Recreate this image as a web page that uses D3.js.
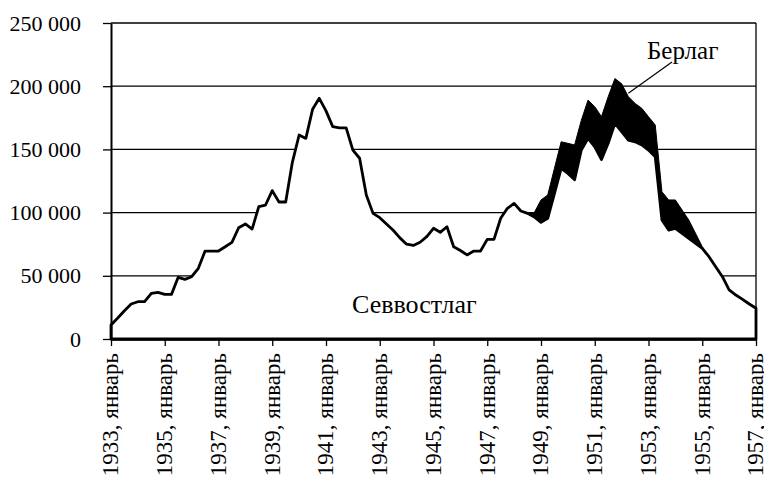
<!DOCTYPE html>
<meta charset="utf-8">
<style>
body { margin: 0; background: #fff; }
svg, svg text { font-family: "Liberation Serif", "DejaVu Serif", serif !important; }
.grid line { stroke: #000; stroke-width: 1.3px; }
</style>
<body>
<div id="chart"></div>
<script src="https://d3js.org/d3.v7.min.js"></script>
<script>
const width = 764, height = 483;
const margin = {top: 23, right: 8, bottom: 144, left: 111};

// quarterly figures, 1933 I .. 1957 I
const sevvostlag = [
	11100, 16600, 22400, 27700,  29500, 29500, 36100, 36900,     // 1933-34
	35300, 35300, 48800, 47200,  49300, 55900, 69600, 69600,     // 1935-36
	69600, 73000, 76500, 88000,  91000, 87000, 104700, 106000,   // 1937-38
	117400, 108400, 108400, 140000,  161400, 158700, 181700, 190400, // 1939-40
	180500, 168000, 167000, 167000,  149500, 143000, 114000, 99400,  // 1941-42
	96000, 91000, 86000, 80000,  75000, 74000, 76500, 81000,     // 1943-44
	87600, 84400, 88800, 73000,  70000, 66500, 69600, 69600,     // 1945-46
	78800, 78800, 95500, 103400,  107300, 101300, 99400, 96500,  // 1947-48
	92300, 95500, 115000, 135000,  131000, 126000, 149500, 158700, // 1949-50
	152000, 142000, 154800, 170600,  164000, 157400, 156000, 153500, // 1951-52
	149500, 144200, 94100, 86200,  87600, 83600, 79600, 75700,   // 1953-54
	71700, 65100, 57200, 49300,  38800, 34800, 31400, 27700,     // 1955-56
	24300                                                        // 1957
];
// Берлаг, from 1948 IV quarter (index 63) on
const berlagStart = 63;
const berlag = [
	3500,
	17700, 18400, 20000, 21000,  23800, 27500, 23500, 30300,
	31800, 33900, 36900, 35400,  38000, 34300, 30400, 29000,
	26400, 25100, 22400, 23800,  22400, 18400, 14500, 7900,
	1300
];
const xTicks = [0, 8, 16, 24, 32, 40, 48, 56, 64, 72, 80, 88, 96];
const xLabels = ["1933, январь", "1935, январь", "1937, январь", "1939, январь", "1941, январь",
	"1943, январь", "1945, январь", "1947, январь", "1949, январь", "1951, январь",
	"1953, январь", "1955, январь", "1957, январь"];
const yTicks = [0, 50000, 100000, 150000, 200000, 250000];
const yLabels = ["0", "50 000", "100 000", "150 000", "200 000", "250 000"];

const table = sevvostlag.map(function(v, i) {
	const b = (i >= berlagStart && i - berlagStart < berlag.length) ? berlag[i - berlagStart] : 0;
	return {q: i, sev: v, ber: b};
});

const x = d3.scaleLinear().domain([0, sevvostlag.length - 1]).range([margin.left, width - margin.right]);
const y = d3.scaleLinear().domain([0, 250000]).range([height - margin.bottom, margin.top]);

const svg = d3.select('#chart').append('svg')
	.attr('width', width)
	.attr('height', height);

// grid
svg.append('g').attr('class', 'grid')
	.selectAll('line')
	.data(yTicks.filter(d => d > 0))
	.enter().append('line')
	.attr('x1', x(0)).attr('x2', x.range()[1])
	.attr('y1', d => y(d)).attr('y2', d => y(d));

// right frame
svg.append('line')
	.attr('x1', x.range()[1]).attr('x2', x.range()[1])
	.attr('y1', y(250000)).attr('y2', y(0))
	.attr('stroke', '#000').attr('stroke-width', 1.3);

const stacked = d3.stack().keys(['sev', 'ber'])(table);

const area = d3.area()
	.x(d => x(d.data.q))
	.y0(d => y(d[0]))
	.y1(d => y(d[1]));

// Севвостлаг: white area hides the grid
svg.append('path')
	.datum(stacked[0])
	.attr('d', area)
	.attr('fill', '#fff')
	.attr('stroke', '#000')
	.attr('stroke-width', 2.8)
	.attr('stroke-linejoin', 'round');

// Берлаг on top
svg.append('path')
	.datum(stacked[1].filter(d => d.data.q >= berlagStart - 1 && d.data.q <= berlagStart + berlag.length))
	.attr('d', area)
	.attr('fill', '#000')
	.attr('stroke', '#000')
	.attr('stroke-width', 1)
	.attr('stroke-linejoin', 'round');

// axes
const yAxis = svg.append('g')
	.attr('transform', 'translate(' + margin.left + ',0)')
	.call(d3.axisLeft(y).tickValues(yTicks).tickSize(8).tickSizeOuter(0).tickPadding(22)
		.tickFormat((d, i) => yLabels[i]));
yAxis.attr('font-size', 22);
yAxis.select('.domain').attr('stroke-width', 2);
yAxis.selectAll('.tick line').attr('stroke-width', 1.3);

const xAxis = svg.append('g')
	.attr('transform', 'translate(0,' + y(0) + ')')
	.call(d3.axisBottom(x).tickValues(xTicks).tickSize(7).tickSizeOuter(0)
		.tickFormat((d, i) => xLabels[i]));
xAxis.attr('font-size', 23);
xAxis.select('.domain').attr('stroke-width', 2.6);
xAxis.selectAll('.tick line').attr('stroke-width', 1.3);
xAxis.selectAll('text')
	.attr('transform', 'rotate(-90)')
	.attr('x', -14)
	.attr('y', 0)
	.attr('dy', '0.3em')
	.attr('text-anchor', 'end');

// labels
svg.append('text')
	.attr('x', 352).attr('y', 313)
	.attr('font-size', 26)
	.text('Севвостлаг');

svg.append('text')
	.attr('x', 647).attr('y', 59)
	.attr('font-size', 25)
	.text('Берлаг');

svg.append('line')
	.attr('x1', 672).attr('y1', 62)
	.attr('x2', x(77)).attr('y2', y(194500))
	.attr('stroke', '#000').attr('stroke-width', 1.2);
</script>
</body>
